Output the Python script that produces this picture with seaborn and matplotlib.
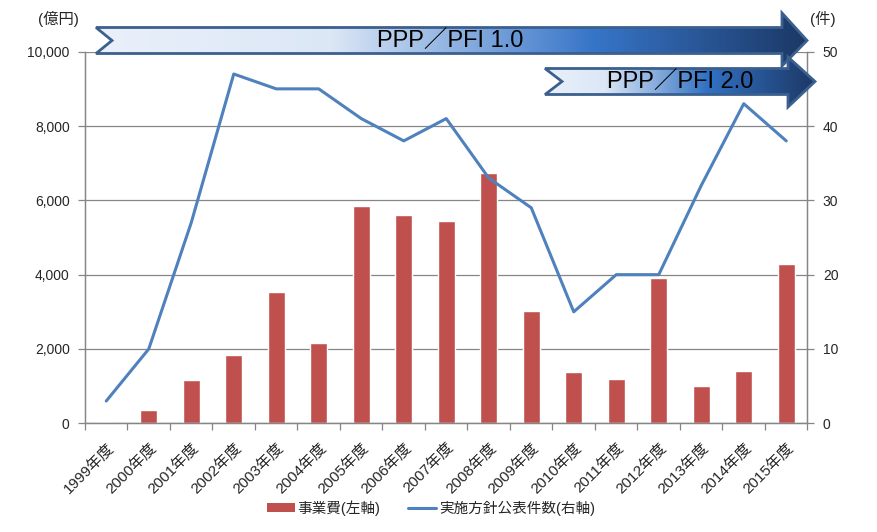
import numpy as np
import pandas as pd
import seaborn as sns
import matplotlib.pyplot as plt
from matplotlib.patches import Polygon, Patch
from matplotlib.lines import Line2D
from matplotlib.colors import LinearSegmentedColormap
from matplotlib.ticker import FuncFormatter

# ------------------------------
# data
# ------------------------------
years = [f"{y}年度" for y in range(1999, 2016)]
cost = [0, 350, 1160, 1830, 3530, 2160, 5850, 5600, 5440, 6740,
        3020, 1380, 1190, 3910, 1000, 1400, 4290]          # 億円 (left)
counts = [3, 10, 27, 47, 45, 45, 41, 38, 41, 33,
          29, 15, 20, 20, 32, 43, 38]                        # 件 (right)
bar_label = "事業費(左軸)"
line_label = "実施方針公表件数(右軸)"
phase_labels = ["PPP／PFI 1.0", "PPP／PFI 2.0"]

# ------------------------------
# style
# ------------------------------
sns.set_theme(style="white")
plt.rcParams['font.family'] = ['Liberation Sans', 'Noto Sans CJK JP', 'DejaVu Sans']

RED = "#c0504d"
BLUE = "#4f81bd"
GRAY = "#868686"

W, H = 878, 532
fig = plt.figure(figsize=(W / 100, H / 100), dpi=100)
ax = fig.add_axes([85 / W, 1 - 423.3 / H, (807.5 - 85) / W, (423.3 - 51.7) / H])
ax2 = ax.twinx()

df = pd.DataFrame({"year": years, "cost": cost, "count": counts})
sns.barplot(data=df, x="year", y="cost", color=RED, width=0.4,
            saturation=1, ax=ax, zorder=2)
sns.lineplot(x=np.arange(len(years)), y=df["count"], color=BLUE,
             linewidth=2.2, ax=ax2, sort=False)

ax.set_xlim(-0.5, len(years) - 0.5)
ax.set_ylim(0, 10000)
ax2.set_ylim(0, 50)
ax.set_yticks(np.arange(0, 10001, 2000))
ax2.set_yticks(np.arange(0, 51, 10))
ax.yaxis.set_major_formatter(FuncFormatter(lambda v, p: f"{int(v):,}"))
ax.set_xlabel("")
ax.set_ylabel("")
ax2.set_ylabel("")

ax.grid(axis="y", color=GRAY, linewidth=0.9, zorder=0)
ax.set_axisbelow(True)

# x ticks between categories, labels at centres
ax.set_xticks(np.arange(len(years)))
ax.set_xticklabels(years, rotation=45, ha="right", rotation_mode="anchor", fontsize=11)
ax.set_xticks(np.arange(-0.5, len(years)), minor=True)
ax.tick_params(axis="x", which="major", length=0, pad=12)
ax.tick_params(axis="x", which="minor", length=5, color=GRAY, width=0.9, bottom=True)
ax.tick_params(axis="y", length=5, color=GRAY, width=0.9, labelsize=10, pad=6, left=True)
ax2.tick_params(axis="y", length=5, color=GRAY, width=0.9, labelsize=10, pad=6, right=True)

for a in (ax, ax2):
    for side in ("left", "right", "bottom"):
        a.spines[side].set_color(GRAY)
        a.spines[side].set_linewidth(0.9)
    a.spines["top"].set_visible(False)

fig.text(38 / W, 1 - 19 / H, "(億円)", fontsize=11, va="center", ha="left")
fig.text(810 / W, 1 - 19 / H, "(件)", fontsize=11, va="center", ha="left")

# legend
handles = [Patch(facecolor=RED, edgecolor="none"),
           Line2D([0], [0], color=BLUE, linewidth=2.2)]
fig.legend(handles, [bar_label, line_label], loc="center",
           bbox_to_anchor=(431 / W, 1 - 508 / H), ncol=2, frameon=False,
           fontsize=10.5, handlelength=1.9, handleheight=0.6, columnspacing=1.9,
           handletextpad=0.2)

# ------------------------------
# gradient arrows (overlay in pixel coordinates)
# ------------------------------
ov = fig.add_axes([0, 0, 1, 1], zorder=10)
ov.set_facecolor("none")
ov.axis("off")


def arrow(x0, x1, xh, y0, y1, hy0, hy1, notch, stops, text, tx):
    ym = (y0 + y1) / 2
    pts = [(x0, y0), (xh, y0), (xh, hy0), (x1, ym), (xh, hy1),
           (xh, y1), (x0, y1), (x0 + notch, ym)]
    cmap = LinearSegmentedColormap.from_list("g", stops)
    grad = np.linspace(0, 1, 256).reshape(1, -1)
    im = ov.imshow(grad, cmap=cmap, extent=(x0, x1, hy1, hy0),
                   aspect="auto", zorder=1)
    poly = Polygon(pts, closed=True, facecolor="none", edgecolor="#3b5f8e",
                   linewidth=2, zorder=2)
    ov.add_patch(poly)
    im.set_clip_path(poly)
    ov.text(tx, ym + 1, text, fontsize=17, ha="center", va="center",
            color="black", zorder=3)


arrow(96, 807, 782, 27.5, 53.5, 13, 66, 16,
      [(0, "#e9f0fa"), (0.33, "#dce7f6"), (0.7, "#3775c8"), (1, "#1c3866")],
      phase_labels[0], 450)
arrow(545, 815, 788, 68.5, 94.5, 57, 107, 17,
      [(0, "#e9f0fa"), (0.22, "#dce7f6"), (0.6, "#3272c4"), (1, "#1c3866")],
      phase_labels[1], 680)

ov.set_xlim(0, W)
ov.set_ylim(H, 0)

fig.savefig("out.png", dpi=100)
